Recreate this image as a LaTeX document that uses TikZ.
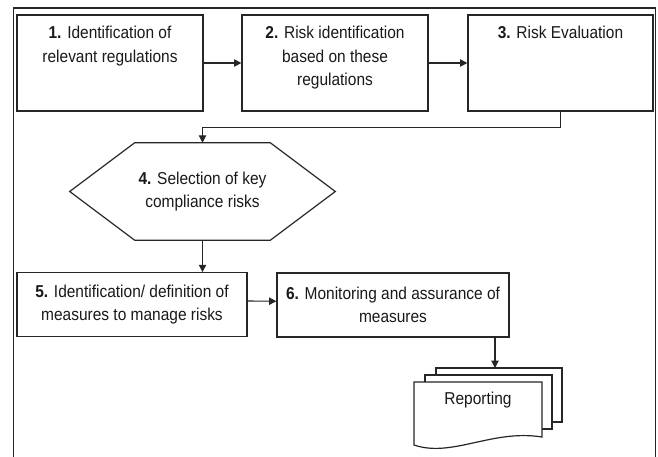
\documentclass[tikz,border=0pt]{standalone}
\usepackage{fontspec}
\setmainfont[FakeStretch=0.9]{Liberation Sans}
\usetikzlibrary{arrows.meta,calc}
\begin{document}
\begin{tikzpicture}[x=0.75pt,y=-0.75pt,
  line/.style={draw=black!85, line width=0.9pt},
  stage/.style={line, rectangle, inner sep=0pt, align=center,
    font=\fontsize{12.9}{17.6}\selectfont, text=black!90},
  arr/.style={draw=black!85, line width=0.8pt, -{Triangle[length=5.5pt,width=5.5pt]}},
  lbl/.style={align=center, inner sep=0pt, anchor=north,
    font=\fontsize{12.9}{17.6}\selectfont, text=black!90},
]
\useasboundingbox (0,0) rectangle (658,457);

% outer frame, open at the bottom
\draw[line] (13.5,457) -- (13.5,8) -- (655.5,8) -- (655.5,457);

% first row of process steps
\node[stage, minimum width=139.5pt, minimum height=72pt] (b1) at (110,63) {};
\node[stage, minimum width=139.5pt, minimum height=72pt] (b2) at (335,63) {};
\node[stage, minimum width=138.75pt, minimum height=72pt] (b3) at (560.5,63) {};
\node[lbl] (t1) at (110,26) {\textbf{1.} Identification of\\relevant regulations};
\node[lbl] (t2) at (335,26) {\textbf{2.} Risk identification\\based on these\\regulations};
\node[lbl] (t3) at (560.5,26) {\textbf{3.} Risk Evaluation};

% decision step (hexagon)
\node[inner sep=0pt, minimum width=198.75pt, minimum height=72.75pt, align=center,
  font=\fontsize{12.9}{17.6}\selectfont, text=black!90] (hex) at (202.5,191.5)
  {\textbf{4.} Selection of key\\compliance risks};
\draw[line] ($(hex.north west)+(65,0)$) -- ($(hex.north east)+(-65,0)$) -- (hex.east)
  -- ($(hex.south east)+(-65,0)$) -- ($(hex.south west)+(65,0)$) -- (hex.west) -- cycle;

% second row of process steps
\node[stage, minimum width=172.5pt, minimum height=48pt] (b5) at (132,304.7)
  {\textbf{5.} Identification/ definition of\\measures to manage risks};
\node[stage, minimum width=174pt, minimum height=48pt] (b6) at (393,305)
  {\textbf{6.} Monitoring and assurance of\\measures};

% stacked report documents
\node[line, fill=white, inner sep=0pt, minimum width=94.5pt, minimum height=40.5pt] (rep3) at (499,395) {};
\node[line, fill=white, inner sep=0pt, minimum width=95.25pt, minimum height=40.5pt] (rep2) at (488.5,402) {};
\filldraw[line, fill=white] (414,382) -- (542,382) -- (542,437)
  .. controls (492,429) and (452,458) .. (414,445) -- cycle;
\node[inner sep=0pt, font=\fontsize{12.9}{17.6}\selectfont, text=black!90] (rep1) at (478,400) {Reporting};
\coordinate (reptop) at (495,368);

% connectors
\draw[arr] (b1.east) -- (b2.west);
\draw[arr] (b2.east) -- (b3.west);
\draw[arr] (b3.south) -- ++(0,16) -| (hex.north);
\draw[arr] (hex.south) -- (hex.south |- b5.north);
\draw[arr] ([yshift=2.8pt]b5.east) -- ([yshift=2.8pt]b6.west);
\draw[arr] (b6.south -| reptop) -- (reptop);
\end{tikzpicture}
\end{document}
